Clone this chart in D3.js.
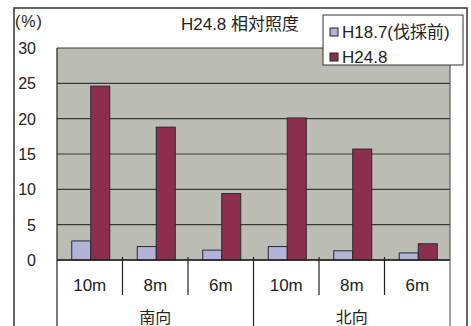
<!DOCTYPE html>
<html><head><meta charset="utf-8">
<script src="https://cdn.jsdelivr.net/npm/d3@7/dist/d3.min.js"></script>
<style>body{margin:0;background:#fff}svg{display:block}text{font-family:"Liberation Sans","Noto Sans CJK JP",sans-serif}</style>
</head><body><svg id="c" width="471" height="326"></svg>
<script>
const groups = ["南向", "北向"];
const distances = ["10m", "8m", "6m"];
const seriesNames = ["H18.7(伐採前)", "H24.8"];
const before = [2.7, 1.9, 1.4, 1.9, 1.3, 1.0];
const after = [24.6, 18.8, 9.4, 20.1, 15.7, 2.3];
const yTicks = [0, 5, 10, 15, 20, 25, 30];
const colors = ["#b3b3da", "#8c2f4f"];

const svg = d3.select("#c");
const cats = [];
groups.forEach(g => distances.forEach(d => cats.push(g + "|" + d)));

const L = 57, R = 450, T = 48, B = 260;
const x = d3.scaleBand().domain(cats).range([L, R]).paddingInner(0).paddingOuter(0);
const y = d3.scaleLinear().domain([0, 30]).range([B, T]);
const gx = d3.scaleBand().domain(groups).range([L, R]);

// outer frame
svg.append("path").attr("d", "M14,330 V8 H467 V330").attr("fill", "none").attr("stroke", "#333").attr("stroke-width", 1.5);

// plot background
svg.append("rect").attr("x", L).attr("y", T).attr("width", R - L).attr("height", B - T).attr("fill", "#bbbcb3");

// gridlines
svg.append("g").selectAll("line").data(yTicks).join("line")
  .attr("x1", L).attr("x2", R).attr("y1", d => y(d)).attr("y2", d => y(d))
  .attr("stroke", "#3a3a38").attr("stroke-width", 1.2);

// bars
const barW = 19;
cats.forEach((c, i) => {
  const cx = x(c) + x.bandwidth() / 2 + 1;
  [before[i], after[i]].forEach((v, s) => {
    svg.append("rect")
      .attr("x", cx - barW + s * barW).attr("y", y(v))
      .attr("width", barW).attr("height", B - y(v))
      .attr("fill", colors[s]).attr("stroke", "#2a2a2a").attr("stroke-width", 1);
  });
});

// y axis
const yAxis = d3.axisLeft(y).tickValues(yTicks).tickSize(0).tickPadding(0);
const ya = svg.append("g").attr("transform", `translate(${L},0)`).call(yAxis);
ya.select(".domain").remove();
ya.selectAll("text").attr("x", -21).attr("font-size", 16).attr("fill", "#222").attr("dy", "0.35em")
  .attr("font-family", "'Liberation Sans Narrow','Liberation Sans',sans-serif");

// left axis line extends to bottom
svg.append("line").attr("x1", L).attr("x2", L).attr("y1", T).attr("y2", 330).attr("stroke", "#222").attr("stroke-width", 1.2);
// x axis line
svg.append("line").attr("x1", L).attr("x2", R).attr("y1", B).attr("y2", B).attr("stroke", "#222").attr("stroke-width", 1.5);
// right edge of plot
svg.append("line").attr("x1", R).attr("x2", R).attr("y1", T).attr("y2", 330).attr("stroke", "#444").attr("stroke-width", 1);

// category separators
cats.forEach((c, i) => {
  if (i === 0) return;
  const xx = x(c);
  const isGroup = i % distances.length === 0;
  svg.append("line").attr("x1", xx).attr("x2", xx).attr("y1", B - 3).attr("y2", isGroup ? 330 : 295)
    .attr("stroke", "#222").attr("stroke-width", 1.2);
});

// category labels
svg.append("g").selectAll("text").data(cats).join("text")
  .attr("x", d => x(d) + x.bandwidth() / 2).attr("y", 291)
  .attr("text-anchor", "middle").attr("font-size", 17).attr("fill", "#222")
  .text(d => d.split("|")[1]);

// group labels
svg.append("g").selectAll("text").data(groups).join("text")
  .attr("x", d => gx(d) + gx.bandwidth() / 2).attr("y", 323)
  .attr("text-anchor", "middle").attr("font-size", 16).attr("fill", "#222")
  .text(d => d);

// unit
svg.append("text").attr("x", 15).attr("y", 27).attr("font-size", 16).attr("letter-spacing", 1).attr("fill", "#222").text("(%)");

// title
svg.append("text").attr("x", 240).attr("y", 30).attr("text-anchor", "middle").attr("font-size", 17).attr("fill", "#222").text("H24.8 相対照度");

// legend
const lg = svg.append("g");
lg.append("rect").attr("x", 323).attr("y", 15).attr("width", 140).attr("height", 50).attr("fill", "#fff").attr("stroke", "#333").attr("stroke-width", 1);
seriesNames.forEach((n, i) => {
  const yy = 32 + i * 25;
  lg.append("rect").attr("x", 330).attr("y", yy - 4).attr("width", 8).attr("height", 8)
    .attr("fill", colors[i]).attr("stroke", "#222").attr("stroke-width", 1);
  lg.append("text").attr("x", 342).attr("y", yy).attr("dy", "0.36em").attr("font-size", 17).attr("fill", "#222").text(n);
});
</script></body></html>
